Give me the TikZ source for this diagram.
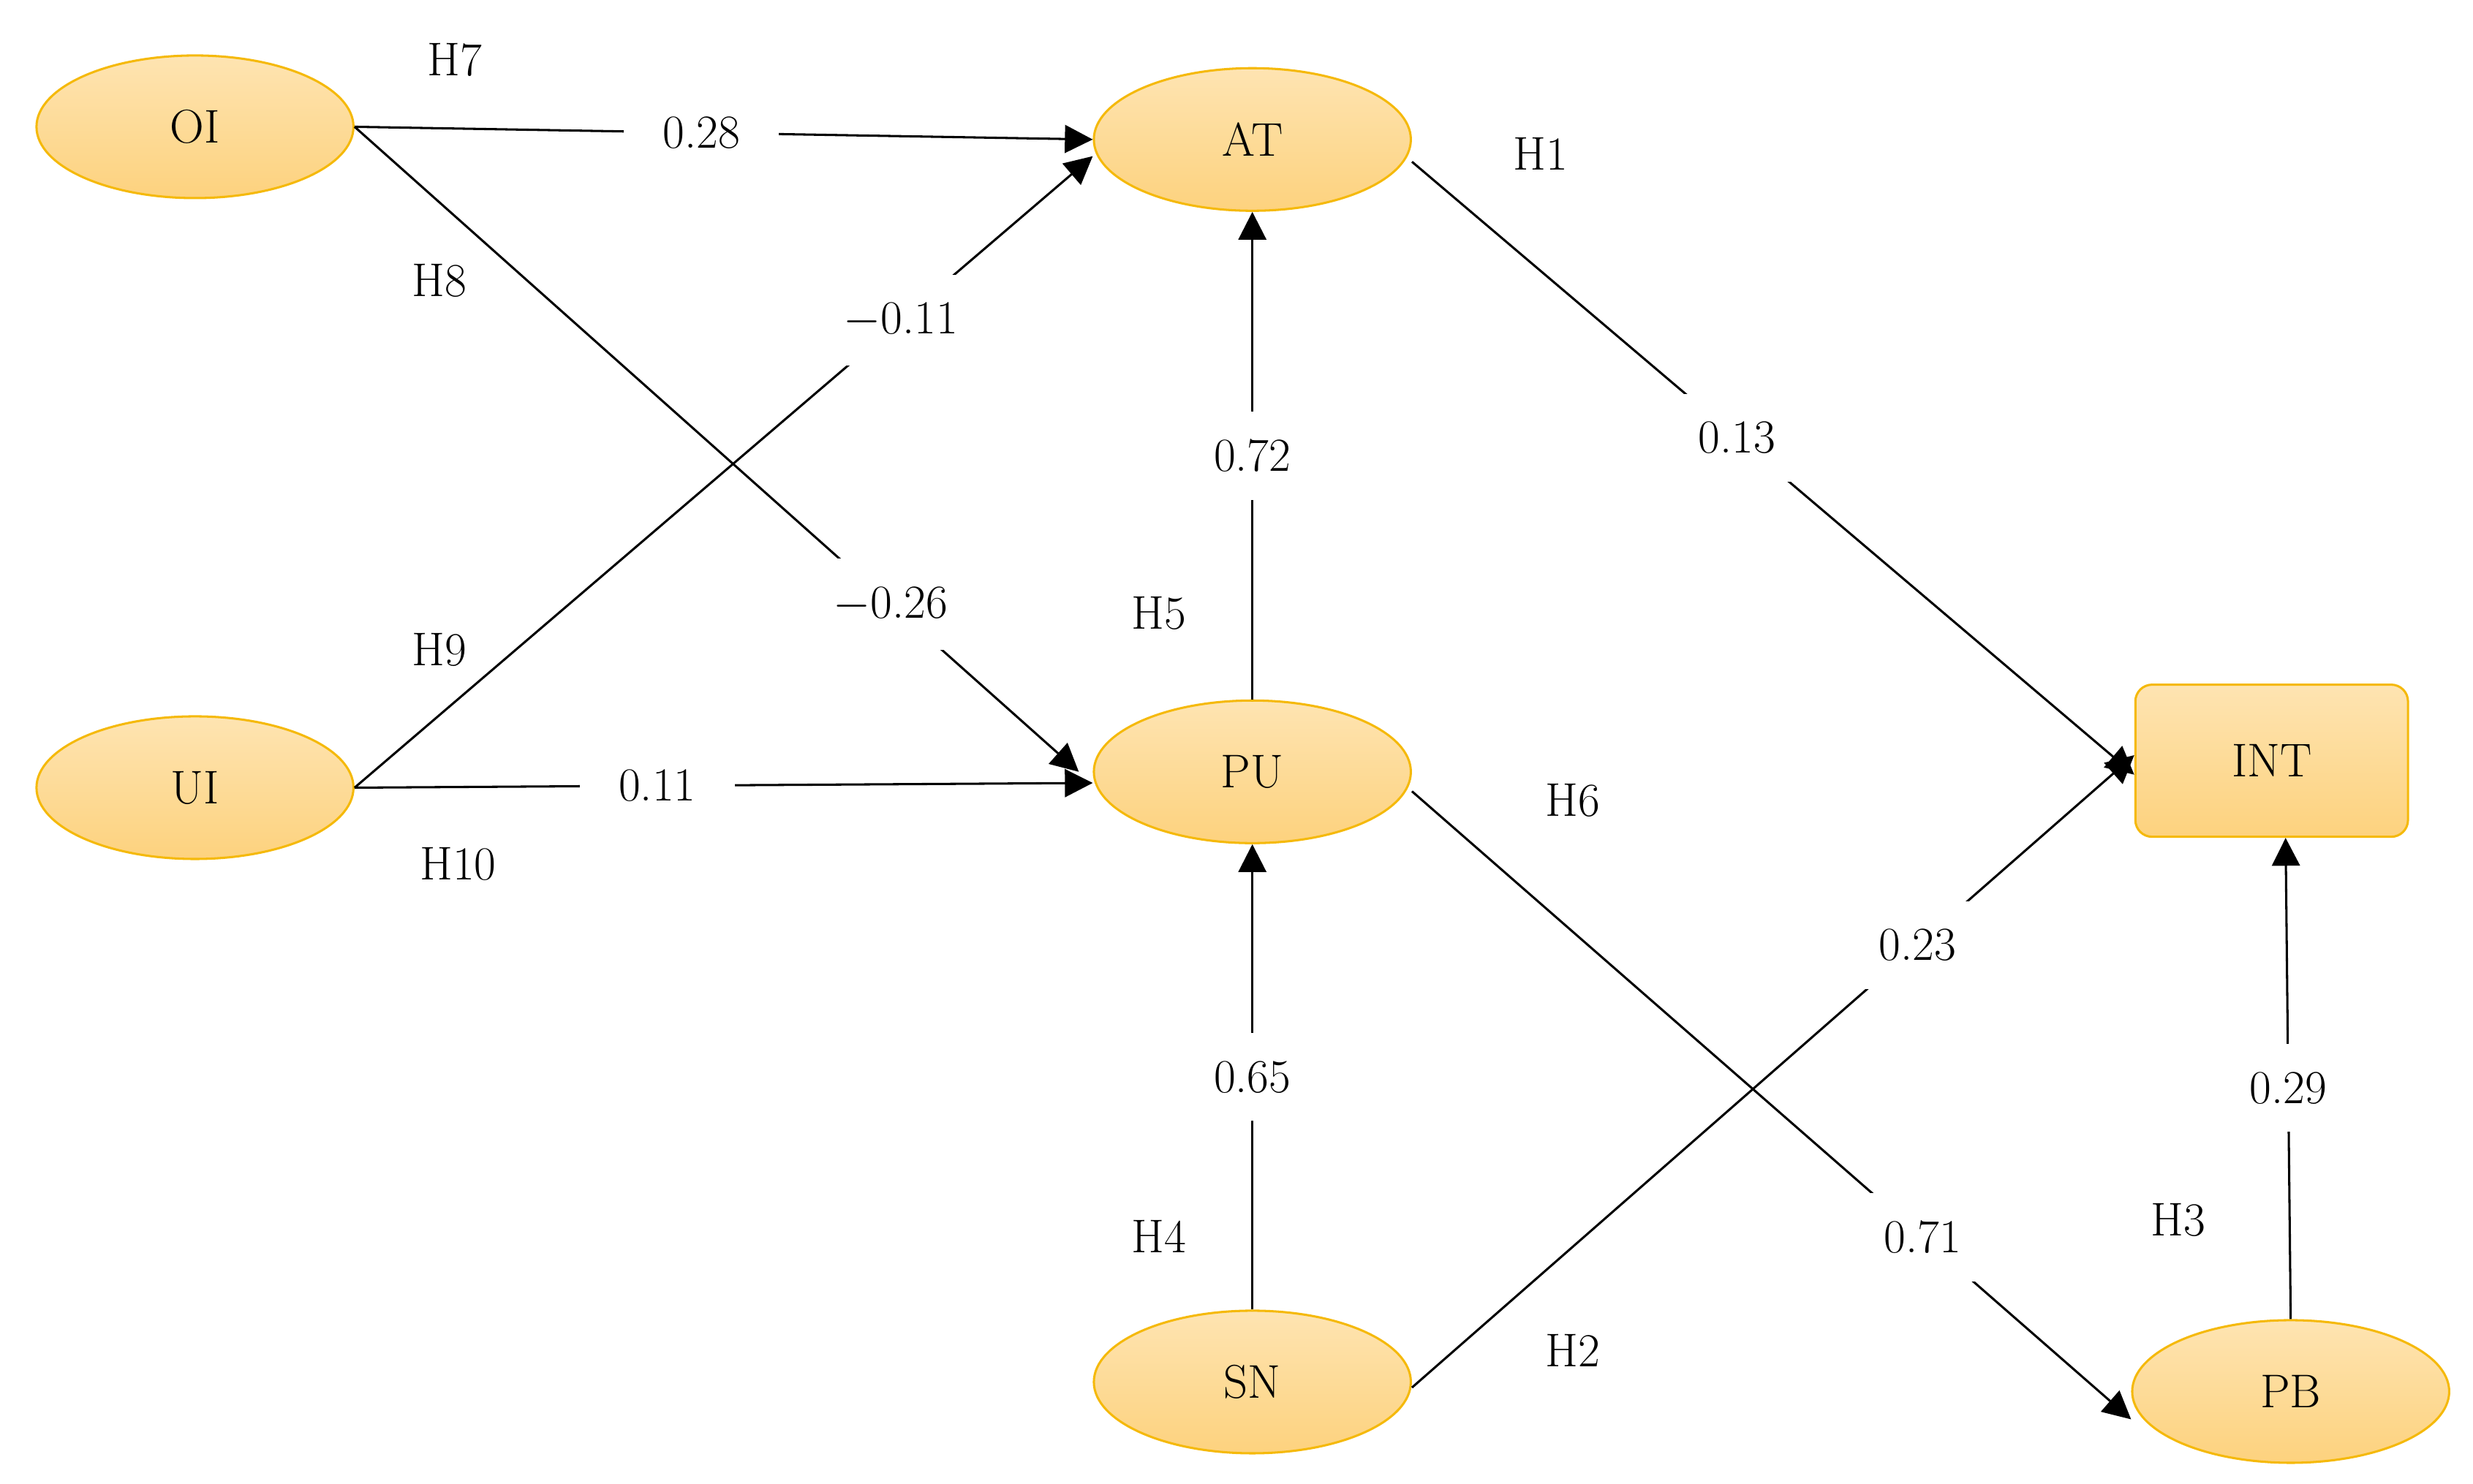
\documentclass[tikz,border=0pt]{standalone}
\usepackage{tikz}
\usetikzlibrary{positioning,arrows.meta,shapes.geometric}
\definecolor{varfill}{HTML}{FDD27E}
\definecolor{varedge}{HTML}{F5B90A}
\tikzset{font=\fontsize{17}{20}\selectfont}

\begin{document}
\begin{tikzpicture}[x=0.02cm,y=-0.02cm,
  var/.style={ellipse,draw=varedge,thick,top color=varfill!60,bottom color=varfill,minimum width={4cm},minimum height={1.8cm}},
  box/.style={rectangle,rounded corners=6pt,draw=varedge,thick,top color=varfill!60,bottom color=varfill,minimum width={3.44cm},minimum height={1.92cm}},
  path/.style={-{Triangle[length=10pt,width=10pt]},thick},
  coef/.style={fill=white,inner xsep=14pt,inner ysep=10pt}]
      \useasboundingbox (0,0) rectangle (1560,936);

      \node[var] (OI) at (123,80) {OI};
      \node[var] (UI) at (123,497) {UI};
      \node[var] (AT) at (790,88) {AT};
      \node[var] (PU) at (790,487) {PU};
      \node[var] (SN) at (790,872) {SN};
      \node[var] (PB) at (1445,878) {PB};
      \node[box] (INT) at (1433,480) {INT};

      \draw[path] (OI.east) -- node[coef,pos=0.47] {0.28} (AT.west);
      \draw[path] (OI.east) -- node[coef,pos=0.74] {$-$0.26} ([xshift=-5]PU.west);
      \draw[path] (UI.east) -- node[coef,pos=0.74] {$-$0.11} ([yshift=-6]AT.west);
      \draw[path] (UI.east) -- node[coef,pos=0.41] {0.11} ([yshift=-4]PU.west);
      \draw[path] (PU.north) -- node[coef] {0.72} (AT.south);
      \draw[path] (SN.north) -- node[coef] {0.65} (PU.south);
      \draw[path] ([yshift=-8]AT.east) -- node[coef,pos=0.45] {0.13} ([yshift=-5]INT.west);
      \draw[path] ([yshift=-7]PU.east) -- node[coef,pos=0.71] {0.71} ([yshift=-10]PB.west);
      \draw[path] ([yshift=-2]SN.east) -- node[coef,pos=0.70] {0.23} ([yshift=2]INT.west);
      \draw[path] (PB.north) -- node[coef,pos=0.48] {0.29} ([xshift=5]INT.south);

      \node (H7) at (287,38) {H7};
      \node (H8) at (277,177) {H8};
      \node (H9) at (277,410) {H9};
      \node (H10) at (289,545) {H10};
      \node (H5) at (731,387) {H5};
      \node (H4) at (731,780) {H4};
      \node (H1) at (972,97) {H1};
      \node (H6) at (992,505) {H6};
      \node (H2) at (992,852) {H2};
      \node (H3) at (1374,770) {H3};
\end{tikzpicture}
\end{document}
